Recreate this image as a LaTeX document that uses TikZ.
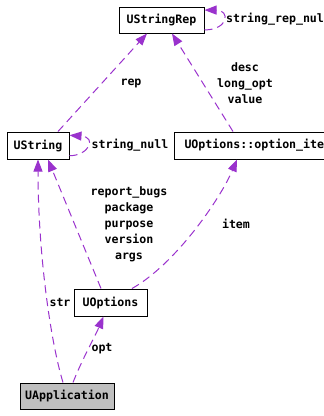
\documentclass[tikz,border=0pt]{standalone}
\usepackage{fontspec}
\setmonofont{DejaVu Sans Mono}
\usetikzlibrary{arrows.meta}
\definecolor{edgepurple}{HTML}{9A32CD}
\definecolor{rootgray}{HTML}{BFBFBF}
\begin{document}
\begin{tikzpicture}[x=1pt,y=-1pt,
  every node/.style={font=\ttfamily\bfseries\fontsize{11.6}{16}\selectfont},
  classbox/.style={draw=black,line width=1pt,inner sep=0pt,minimum height=27pt},
  lbl/.style={inner sep=0pt,align=center},
  edge/.style={draw=edgepurple,line width=1pt,dash pattern=on 8pt off 5pt,
    -{Triangle[length=12pt,width=9pt,fill=edgepurple]}}]
\useasboundingbox (0,0) rectangle (324,416);
\clip (0,0) rectangle (324,416);

% classes
\node[classbox,minimum width=85pt,minimum height=26pt] (sr) at (161.5,20) {UStringRep};
\node[classbox,minimum width=62pt] (us) at (38,145.5) {UString};
\node[classbox,anchor=west,inner xsep=10pt,text width=150pt,align=left] (oi) at (174,145.5) {UOptions::option\_ite};
\node[classbox,minimum width=73pt] (uo) at (110.5,302.5) {UOptions};
\node[classbox,fill=rootgray,minimum width=94pt,minimum height=26pt] (ua) at (67,396) {UApplication};

% self references
\draw[edge] (sr.-13) .. controls +(24,0) and +(26,0) .. (sr.13);
\node[lbl,anchor=west] (lsrn) at (226,19) {string\_rep\_nul};
\draw[edge] (us.-18) .. controls +(19,0) and +(28,2) .. (us.18);
\node[lbl] (lsn) at (130,145) {string\_null};

% members pointing to UStringRep
\draw[edge] ([xshift=20pt]us.north) -- ([xshift=-14.5pt]sr.south);
\node[lbl] (lrep) at (131,83) {rep};
\draw[edge] ([xshift=59pt]oi.north west) -- ([xshift=10.5pt]sr.south);
\node[lbl] (ldesc) at (245,83) {desc\\long\_opt\\value};

% members of UOptions
\draw[edge] ([xshift=-9.5pt]uo.north) -- ([xshift=10pt]us.south);
\node[lbl] (lopts) at (129,224) {report\_bugs\\package\\purpose\\version\\args};
\draw[edge] ([xshift=21.5pt]uo.north) .. controls +(43,-24) and +(-17,40) .. ([xshift=63pt]oi.south west);
\node[lbl] (litem) at (236,224) {item};

% members of UApplication
\draw[edge] ([xshift=-4pt]ua.north) .. controls +(-13,-43) and +(0,91) .. (us.south);
\node[lbl] (lstr) at (60,303) {str};
\draw[edge] ([xshift=6pt]ua.north) .. controls +(9,-23) and +(-8,19) .. ([xshift=-7pt]uo.south);
\node[lbl] (lopt) at (102,349) {opt};
\end{tikzpicture}
\end{document}
